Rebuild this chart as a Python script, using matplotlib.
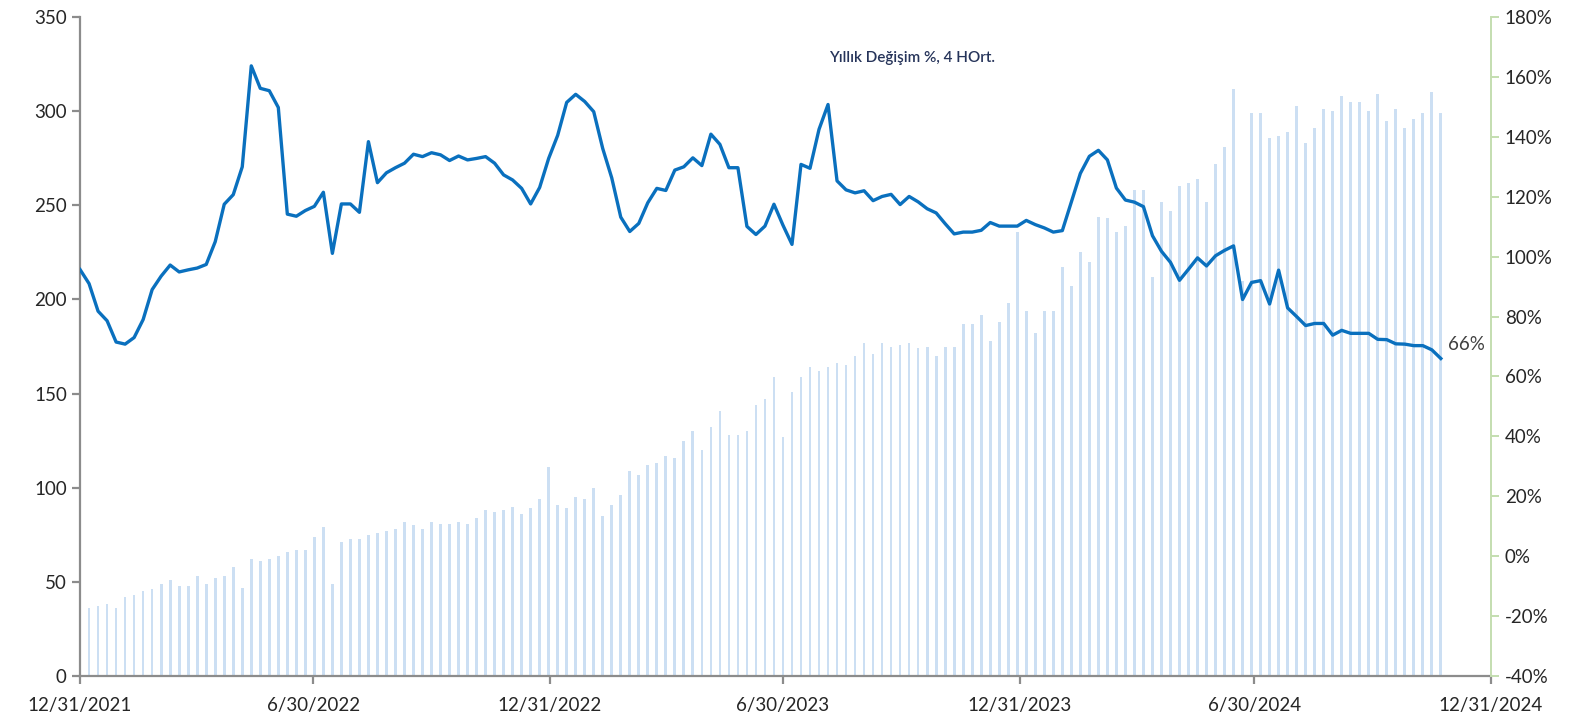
import matplotlib
matplotlib.use("Agg")
import matplotlib.pyplot as plt
import matplotlib.dates as mdates
import pandas as pd
import numpy as np

# ---- data ----
start_date = "2021-12-31"   # weekly observations (Fridays)
bar_values = [41, 36, 37, 38, 36, 42, 43, 45, 46, 49, 51, 48, 48, 53, 49, 52, 53, 58, 47, 62,
              61, 62, 64, 66, 67, 67, 74, 79, 49, 71, 73, 73, 75, 76, 77, 78, 82, 80, 78, 82,
              81, 81, 82, 81, 84, 88, 87, 88, 90, 86, 89, 94, 111, 91, 89, 95, 94, 100, 85, 91,
              96, 109, 107, 112, 113, 117, 116, 125, 130, 120, 132, 141, 128, 128, 130, 144, 147, 159, 127, 151,
              159, 164, 162, 164, 166, 165, 170, 177, 171, 177, 175, 176, 177, 174, 175, 170, 175, 175, 187, 187,
              192, 178, 188, 198, 236, 194, 182, 194, 194, 217, 207, 225, 220, 244, 243, 236, 239, 258, 258, 212,
              252, 247, 260, 262, 264, 252, 272, 281, 312, 210, 299, 299, 286, 287, 289, 303, 283, 291, 301, 300,
              308, 305, 305, 300, 309, 295, 301, 291, 296, 299, 310, 299]
yoy_pct = [95.7, 91.0, 81.8, 78.6, 71.5, 70.8, 73.0, 79.0, 89.0, 93.5, 97.2, 94.9, 95.6, 96.2, 97.4, 105.0, 117.5, 120.7, 130.0, 163.7,
           156.2, 155.4, 149.8, 114.2, 113.5, 115.4, 116.8, 121.5, 101.1, 117.6, 117.6, 114.8, 138.4, 124.7, 128.0, 129.7, 131.2, 134.2, 133.4, 134.7,
           134.0, 132.1, 133.6, 132.3, 132.8, 133.4, 131.2, 127.3, 125.6, 122.8, 117.6, 123.1, 132.8, 140.5, 151.5, 154.2, 151.8, 148.4, 136.1, 126.3,
           113.2, 108.4, 111.1, 118.0, 122.8, 122.1, 128.9, 130.0, 133.0, 130.4, 140.9, 137.5, 129.7, 129.7, 110.1, 107.4, 110.2, 117.5, 110.5, 104.1,
           130.8, 129.5, 142.5, 150.8, 125.3, 122.3, 121.3, 122.0, 118.7, 120.1, 120.8, 117.4, 120.1, 118.3, 116.0, 114.6, 111.0, 107.6, 108.2, 108.2,
           108.8, 111.4, 110.2, 110.2, 110.2, 112.1, 110.7, 109.6, 108.2, 108.7, 118.3, 127.8, 133.5, 135.5, 132.3, 122.9, 118.9, 118.2, 116.7, 107.0,
           101.8, 98.1, 92.1, 95.8, 99.6, 96.9, 100.3, 102.1, 103.6, 85.7, 91.4, 92.0, 84.2, 95.5, 82.9, 80.0, 77.0, 77.7, 77.7, 73.8,
           75.4, 74.4, 74.4, 74.4, 72.4, 72.3, 70.9, 70.8, 70.3, 70.3, 68.9, 66.0]
x_tick_dates = ["2021-12-31", "2022-06-30", "2022-12-31", "2023-06-30", "2023-12-31", "2024-06-30", "2024-12-31"]
x_tick_labels = ["12/31/2021", "6/30/2022", "12/31/2022", "6/30/2023", "12/31/2023", "6/30/2024", "12/31/2024"]
left_ticks = [0, 50, 100, 150, 200, 250, 300, 350]
right_ticks = [-40, -20, 0, 20, 40, 60, 80, 100, 120, 140, 160, 180]
title_text = "Yıllık Değişim %, 4 HOrt."
end_label = "66%"

# ---- plot ----
plt.rcParams['font.family'] = ['Lato', 'DejaVu Sans']
dates = pd.date_range(start_date, periods=len(bar_values), freq="7D")
xd = mdates.date2num(dates.to_pydatetime())

fig = plt.figure(figsize=(15.82, 7.28), dpi=100)
ax = fig.add_axes([0.0506, 0.0714, 0.8919, 0.9052])
ax.bar(xd, bar_values, width=2.1, color="#CCDFF3", edgecolor="none", zorder=1)
ax.set_ylim(0, 350)
ax.set_yticks(left_ticks)
xt = mdates.date2num(pd.to_datetime(x_tick_dates).to_pydatetime())
ax.set_xlim(xt[0], xt[-1])
ax.set_xticks(xt)
ax.set_xticklabels(x_tick_labels)

for s in ["top", "right"]:
    ax.spines[s].set_visible(False)
for s in ["left", "bottom"]:
    ax.spines[s].set_color("#8C8C8C")
    ax.spines[s].set_linewidth(1.6)
ax.tick_params(axis="both", colors="#8C8C8C", labelcolor="#262626", labelsize=13.5, length=6, width=1.6)
ax.tick_params(axis="x", pad=9)

ax2 = ax.twinx()
ax2.plot(xd, yoy_pct, color="#0A70BE", linewidth=2.4, zorder=3, solid_joinstyle="round")
ax2.set_ylim(-40, 180)
ax2.set_yticks(right_ticks)
ax2.set_yticklabels([f"{v}%" for v in right_ticks])
for s in ["top", "left", "bottom"]:
    ax2.spines[s].set_visible(False)
ax2.spines["right"].set_color("#C4DEB0")
ax2.spines["right"].set_linewidth(1.4)
ax2.tick_params(axis="y", colors="#C4DEB0", labelcolor="#262626", labelsize=13.5, length=6, width=1.4, pad=4)

ax2.annotate(end_label, xy=(xd[-1], yoy_pct[-1]), xytext=(5, 4), textcoords="offset points",
             fontsize=13.5, color="#404040", ha="left", va="bottom")

fig.text(912 / 1582, 1 - 58 / 728, title_text, fontsize=11, color="#26345A",
         ha="center", va="center", fontweight="semibold")

fig.savefig("out.png", dpi=100)
